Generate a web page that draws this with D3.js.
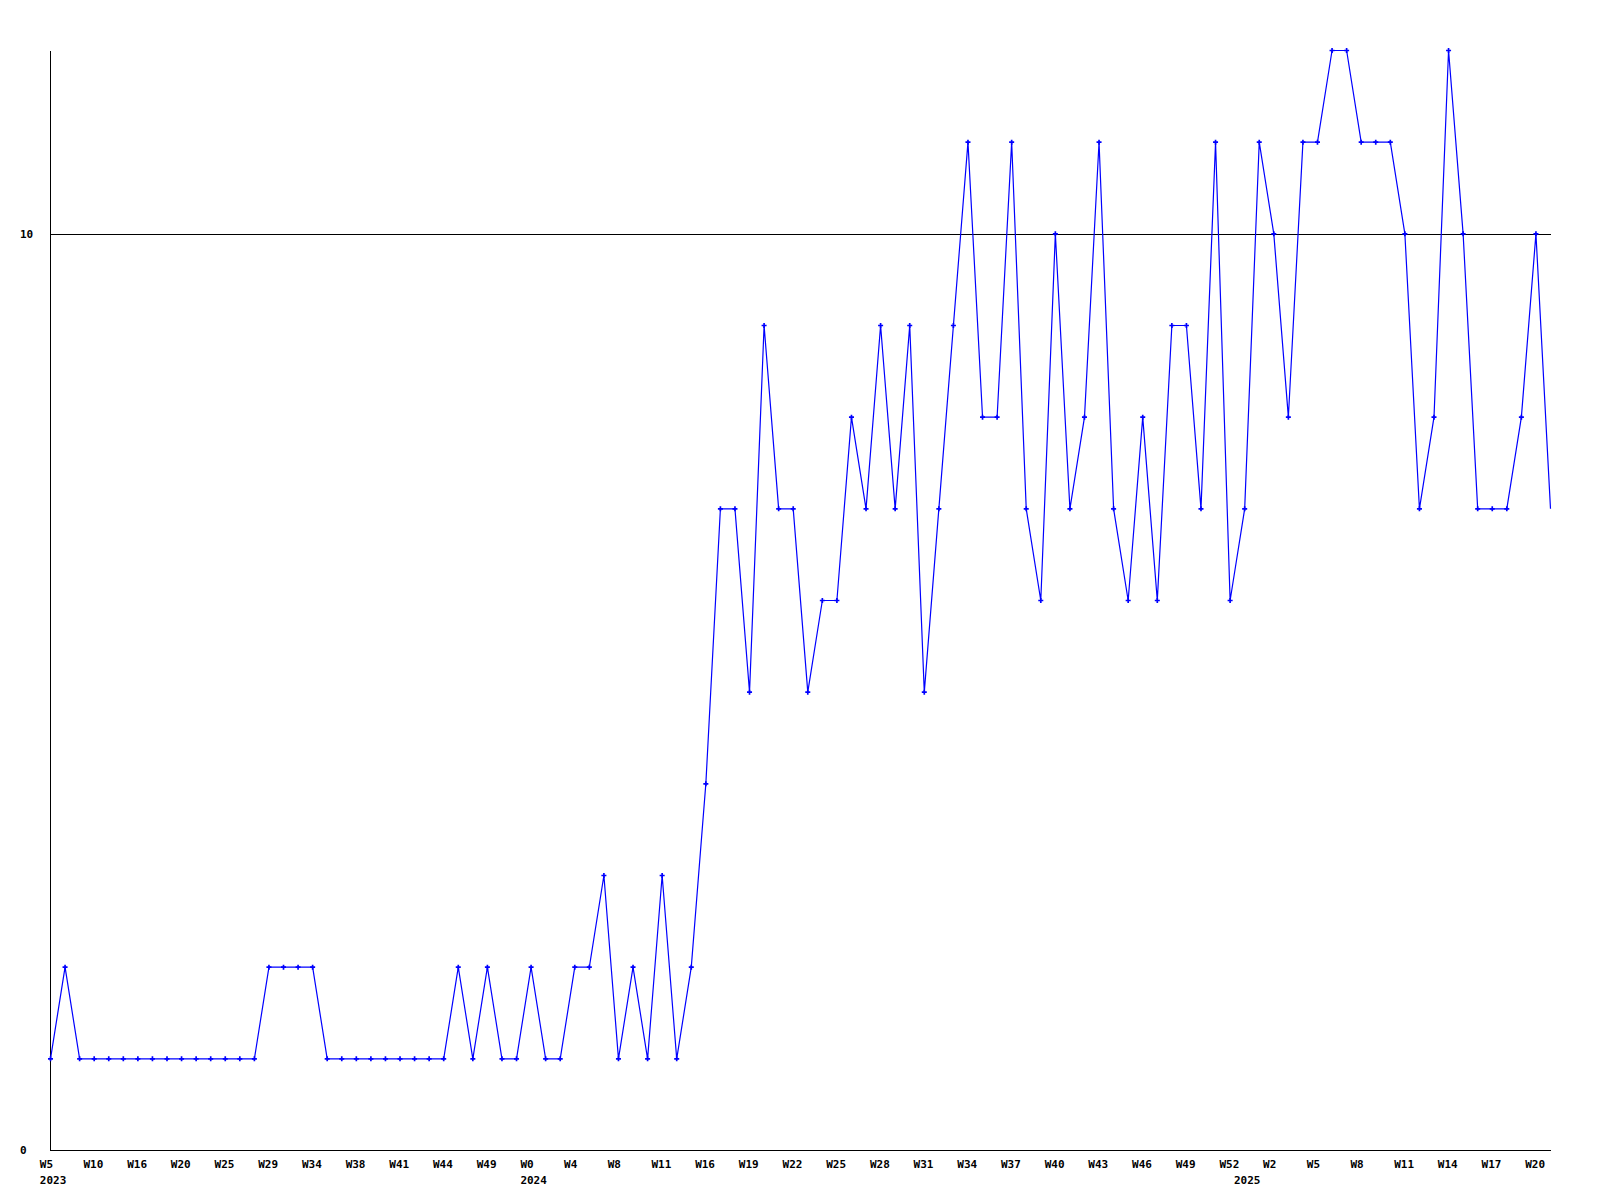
<!DOCTYPE html>
<html>
<head>
<meta charset="utf-8">
<script src="https://cdn.jsdelivr.net/npm/d3@7/dist/d3.min.js"></script>
<style>
  html, body { margin: 0; padding: 0; background: #ffffff; }
  svg { display: block; }
  text { font-family: "DejaVu Sans Mono", "Liberation Mono", monospace; font-weight: bold; font-size: 11px; fill: #000; }
</style>
</head>
<body>
<svg id="chart" width="1600" height="1200"></svg>
<script>
// ---- data ----
const values = [
  1, 2, 1, 1, 1, 1, 1, 1, 1, 1, 1, 1, 1, 1, 1, 2, 2, 2, 2, 1,
  1, 1, 1, 1, 1, 1, 1, 1, 2, 1, 2, 1, 1, 2, 1, 1, 2, 2, 3, 1,
  2, 1, 3, 1, 2, 4, 7, 7, 5, 9, 7, 7, 5, 6, 6, 8, 7, 9, 7, 9,
  5, 7, 9, 11, 8, 8, 11, 7, 6, 10, 7, 8, 11, 7, 6, 8, 6, 9, 9, 7,
  11, 6, 7, 11, 10, 8, 11, 11, 12, 12, 11, 11, 11, 10, 7, 8, 12, 10, 7, 7,
  7, 8, 10, 7
];
// week labels, shown on every third point
const weekLabels = [
  "W5", "W10", "W16", "W20", "W25", "W29", "W34", "W38", "W41", "W44", "W49",
  "W0", "W4", "W8", "W11", "W16", "W19", "W22", "W25", "W28", "W31", "W34", "W37", "W40", "W43", "W46", "W49", "W52",
  "W2", "W5", "W8", "W11", "W14", "W17", "W20"
];
const labelEvery = 3;
// year labels and the index of the first point of that year
const years = ["2023", "2024", "2025"];
const yearStart = [0, 33, 82];
const yTicks = [0, 10];
const yMax = 12;

// ---- chart ----
const svg = d3.select("#chart");
const plotL = 50.5, plotR = 1550.5, plotT = 50.5, plotB = 1150.5;

const x = d3.scaleLinear().domain([0, values.length - 1]).range([plotL, plotR]);
const y = d3.scaleLinear().domain([0, yMax]).range([plotB, plotT]);

// axes lines
svg.append("line")
  .attr("x1", plotL).attr("x2", plotL).attr("y1", plotT).attr("y2", plotB)
  .attr("stroke", "#000").attr("stroke-width", 1).attr("shape-rendering", "crispEdges");
svg.append("line")
  .attr("x1", plotL).attr("x2", plotR).attr("y1", plotB).attr("y2", plotB)
  .attr("stroke", "#000").attr("stroke-width", 1).attr("shape-rendering", "crispEdges");

// horizontal grid line(s) for non-zero ticks
svg.selectAll("line.grid")
  .data(yTicks.filter(d => d > 0))
  .enter().append("line")
  .attr("class", "grid")
  .attr("x1", plotL).attr("x2", plotR)
  .attr("y1", d => Math.round(y(d)) + 0.5).attr("y2", d => Math.round(y(d)) + 0.5)
  .attr("stroke", "#000").attr("stroke-width", 1).attr("shape-rendering", "crispEdges");

// y labels
svg.selectAll("text.ylab")
  .data(yTicks)
  .enter().append("text")
  .attr("class", "ylab")
  .attr("x", 20)
  .attr("y", d => y(d))
  .attr("dy", "0.36em")
  .text(d => d);

// x week labels
svg.selectAll("text.xlab")
  .data(weekLabels)
  .enter().append("text")
  .attr("class", "xlab")
  .attr("x", (d, i) => x(i * labelEvery) - 10.7)
  .attr("y", 1167.5)
  .text(d => d);

// year labels
svg.selectAll("text.year")
  .data(years)
  .enter().append("text")
  .attr("class", "year")
  .attr("x", (d, i) => x(yearStart[i]) - 10.7)
  .attr("y", 1183.5)
  .text(d => d);

// data line
const line = d3.line().x((d, i) => x(i)).y(d => y(d));
svg.append("path")
  .datum(values)
  .attr("d", line)
  .attr("fill", "none")
  .attr("stroke", "#0000ff")
  .attr("stroke-width", 1.2);

// markers (last point has none)
const cross = d3.symbol().type(d3.symbolCross).size(14);
svg.selectAll("path.mark")
  .data(values.slice(0, values.length - 1))
  .enter().append("path")
  .attr("class", "mark")
  .attr("transform", (d, i) => `translate(${x(i)},${y(d)})`)
  .attr("d", cross)
  .attr("fill", "#0000ff");
</script>
</body>
</html>
